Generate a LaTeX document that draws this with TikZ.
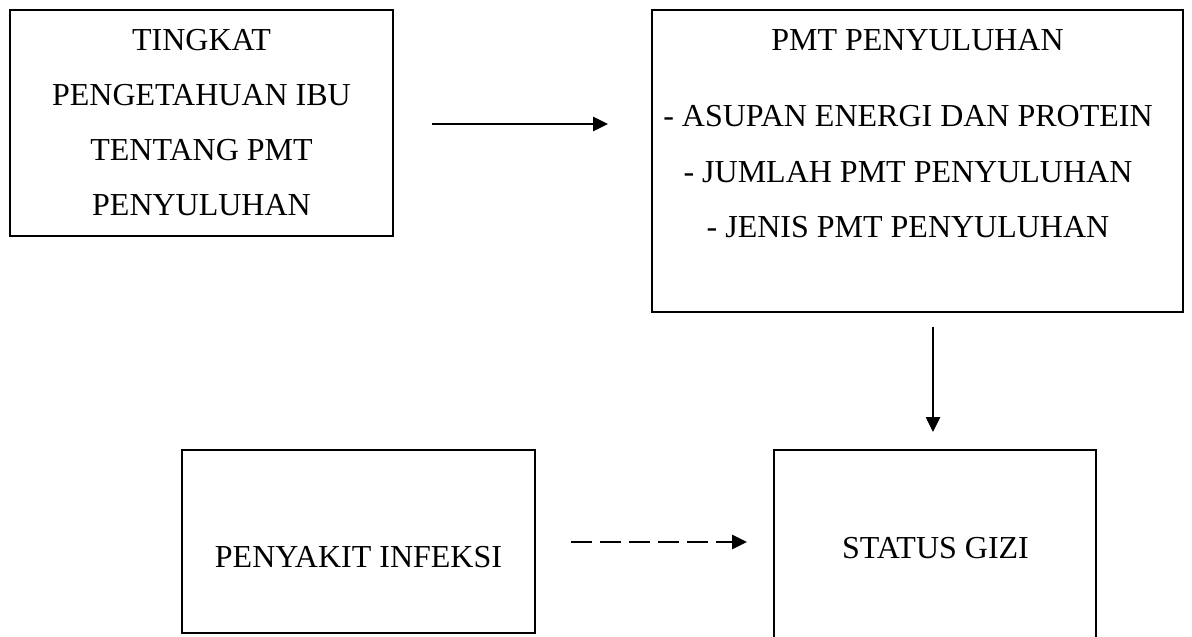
\documentclass[tikz,border=0pt]{standalone}
\usepackage{fontspec}
\setmainfont{Liberation Serif}
\usetikzlibrary{arrows.meta}
\begin{document}
\begin{tikzpicture}[x=1pt,y=-1pt,
  box/.style={draw=black,line width=1.5pt,rectangle,inner sep=0pt},
  txt/.style={anchor=base,inner sep=0pt,font=\fontsize{32}{38}\selectfont},
  arr/.style={line width=2.6pt,-{Triangle[length=15pt,width=14pt]}},
  darr/.style={arr,dash pattern=on 21pt off 8pt}]
\useasboundingbox (0,0) rectangle (1192,637);
\clip (0,0) rectangle (1192,637);
\node[box,minimum width=383pt,minimum height=226pt] (b1) at (201.5,123) {};
\node[box,minimum width=531pt,minimum height=302pt] (b2) at (917.5,161) {};
\node[box,minimum width=353pt,minimum height=183pt] (b3) at (358.5,541.5) {};
\node[box,minimum width=322pt,minimum height=210pt] (b4) at (935,555) {};
\node[txt] (t1a) at (201.5,50) {TINGKAT};
\node[txt] (t1b) at (201.5,105) {PENGETAHUAN IBU};
\node[txt] (t1c) at (201.5,160) {TENTANG PMT};
\node[txt] (t1d) at (201.5,215) {PENYULUHAN};
\node[txt] (t2a) at (917.5,50) {PMT PENYULUHAN};
\node[txt] (t2b) at (908,126) {- ASUPAN ENERGI DAN PROTEIN};
\node[txt] (t2c) at (908,182) {- JUMLAH PMT PENYULUHAN};
\node[txt] (t2d) at (908,237) {- JENIS PMT PENYULUHAN};
\node[txt] (t3) at (358.5,567) {PENYAKIT INFEKSI};
\node[txt] (t4) at (935.5,558) {STATUS GIZI};
\coordinate (h1) at (432,124);
\coordinate (h2) at (608,124);
\coordinate (v1) at (933,327);
\coordinate (v2) at (933,432);
\coordinate (d1) at (571,542);
\coordinate (d2) at (747,542);
\draw[arr] (h1) -- (h2);
\draw[arr] (v1) -- (v2);
\draw[darr] (d1) -- (d2);
\end{tikzpicture}
\end{document}
